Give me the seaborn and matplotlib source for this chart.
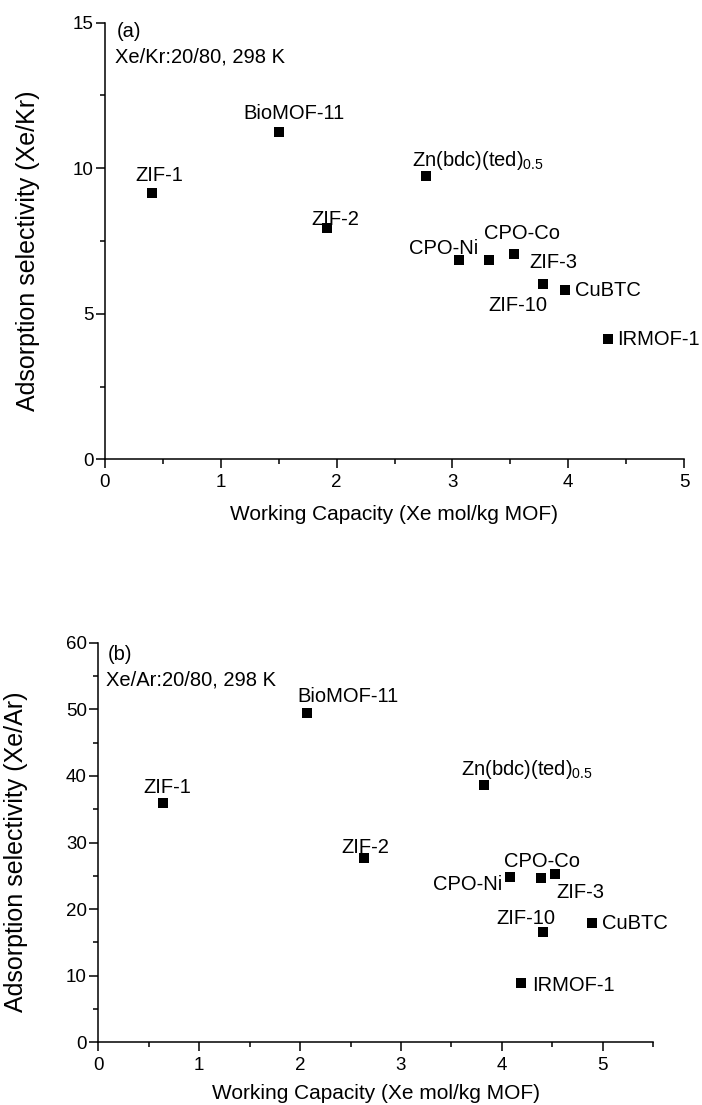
import matplotlib
matplotlib.use("Agg")
import matplotlib.pyplot as plt
import seaborn as sns
import pandas as pd
from matplotlib.ticker import MultipleLocator

# ---------------- data ----------------
materials = ["ZIF-1", "BioMOF-11", "ZIF-2", "Zn(bdc)(ted)$_{0.5}$", "CPO-Ni",
             "CPO-Co", "ZIF-3", "ZIF-10", "CuBTC", "IRMOF-1"]
kr_capacity = [0.41, 1.50, 1.92, 2.77, 3.06, 3.32, 3.53, 3.78, 3.97, 4.34]
kr_selectivity = [9.16, 11.25, 7.94, 9.74, 6.85, 6.84, 7.07, 6.01, 5.82, 4.12]
ar_capacity = [0.64, 2.07, 2.63, 3.82, 4.08, 4.39, 4.53, 4.41, 4.89, 4.19]
ar_selectivity = [35.9, 49.4, 27.6, 38.7, 24.8, 24.6, 25.3, 16.6, 17.9, 8.9]

xlabel = "Working Capacity (Xe mol/kg MOF)"
ylabel_a = "Adsorption selectivity (Xe/Kr)"
ylabel_b = "Adsorption selectivity (Xe/Ar)"
panel_a = ["(a)", "Xe/Kr:20/80, 298 K"]
panel_b = ["(b)", "Xe/Ar:20/80, 298 K"]

# ---------------- layout (label offsets in pixels) ----------------
offs_a = [(7, 11.5, "center"), (15, 12.5, "center"), (8, 3.5, "center"),
          (-14, 9.5, "left"), (19, 5.5, "right"), (33, 21, "center"),
          (16, -14, "left"), (-25, -27, "center"), (10, -6.5, "left"),
          (10, -6, "left")]
offs_b = [(4, 10, "center"), (41, 11, "center"), (2, 5, "center"),
          (-23, 9.5, "left"), (-8, -13, "right"), (1, 11, "center"),
          (1, -24, "left"), (-17.5, 8, "center"), (10, -6, "left"),
          (11, -8, "left")]

sns.set_style("ticks")
plt.rcParams["font.family"] = ["Liberation Sans", "DejaVu Sans"]
plt.rcParams["mathtext.default"] = "regular"
for k in ["text.color", "axes.labelcolor", "xtick.color", "ytick.color",
          "axes.edgecolor"]:
    plt.rcParams[k] = "black"

W, H = 702, 1105
fig = plt.figure(figsize=(W / 100, H / 100), dpi=100)

ax_a = fig.add_axes([105 / W, 1 - 459.3 / H, 579 / W, 436.6 / H])
ax_b = fig.add_axes([98.3 / W, 1 - 1042.3 / H, 555 / W, 399.6 / H])


def draw(ax, xs, ys, offs, xlim, ylim, xmaj, ymaj, ylab, ptxt, ylab_x, ptxt_y):
    df = pd.DataFrame({"x": xs, "y": ys, "name": materials})
    sns.scatterplot(data=df, x="x", y="y", ax=ax, marker="s", s=48,
                    color="black", linewidth=0, zorder=3)
    for (x, y, name), (dx, dy, ha) in zip(zip(xs, ys, materials), offs):
        ax.annotate(name, (x, y), xytext=(dx, dy), textcoords="offset pixels",
                    ha=ha, va="baseline", fontsize=14.5, color="black")
    ax.set_xlim(*xlim)
    ax.set_ylim(*ylim)
    ax.xaxis.set_major_locator(MultipleLocator(xmaj))
    ax.xaxis.set_minor_locator(MultipleLocator(xmaj / 2))
    ax.yaxis.set_major_locator(MultipleLocator(ymaj))
    ax.yaxis.set_minor_locator(MultipleLocator(ymaj / 2))
    ax.xaxis.set_major_formatter(plt.FuncFormatter(lambda v, p: f"{v:g}"))
    ax.yaxis.set_major_formatter(plt.FuncFormatter(lambda v, p: f"{v:g}"))
    sns.despine(ax=ax)
    for s in ["left", "bottom"]:
        ax.spines[s].set_linewidth(1.1)
        ax.spines[s].set_color("black")
    ax.tick_params(which="major", direction="out", length=6.7, width=1.1,
                   labelsize=13.5, colors="black")
    ax.tick_params(which="minor", direction="out", length=3.4, width=1.1,
                   colors="black")
    ax.tick_params(axis="x", which="major", pad=4)
    ax.tick_params(axis="y", which="major", pad=1.5)
    ax.set_xlabel(xlabel, fontsize=15)
    ax.set_ylabel(ylab, fontsize=18)
    ax.xaxis.set_label_coords(0.5, -0.105)
    ax.yaxis.set_label_coords(ylab_x, 0.477)
    ax.text(ptxt_y[0], ptxt_y[1], ptxt[0], transform=ax.transAxes,
            fontsize=14.5, ha="left", va="baseline")
    ax.text(ptxt_y[0] - 0.003, ptxt_y[2], ptxt[1], transform=ax.transAxes,
            fontsize=14.5, ha="left", va="baseline")


draw(ax_a, kr_capacity, kr_selectivity, offs_a, (0, 5), (0, 15), 1, 5,
     ylabel_a, panel_a, -0.113, (0.021, 0.968, 0.908))
draw(ax_b, ar_capacity, ar_selectivity, offs_b, (0, 5.5), (0, 60), 1, 10,
     ylabel_b, panel_b, -0.127, (0.0175, 0.957, 0.894))
ax_b.set_xticks([0, 1, 2, 3, 4, 5])

fig.savefig("out.png", dpi=100, facecolor="white")
